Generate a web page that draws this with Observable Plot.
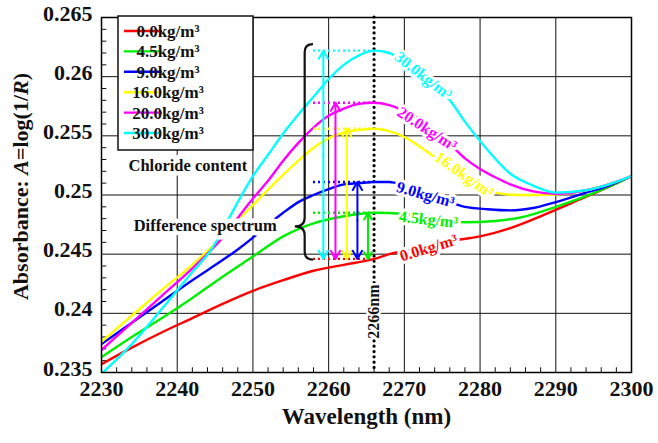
<!DOCTYPE html>
<html><head><meta charset="utf-8">
<script src="https://cdn.jsdelivr.net/npm/d3@7"></script>
<script src="https://cdn.jsdelivr.net/npm/@observablehq/plot@0.6"></script>
<style>
html,body{margin:0;padding:0;background:#fff;}
#chart{position:relative;width:658px;height:443px;}
#chart text{font-family:"Liberation Serif","Tinos","DejaVu Serif",serif !important;}
</style></head><body><div id="chart"></div>
<script>
// ---------- data ----------
const seriesNames = ["0.0kg/m³","4.5kg/m³","9.0kg/m³","16.0kg/m³","20.0kg/m³","30.0kg/m³"];
const seriesColors = ["#ff0000","#00ee00","#0000ff","#ffff00","#ff00ff","#00ffff"];

const red0 = [[2230,.2357],[2234,.2371],[2238,.2384],[2242,.2396],[2246,.2408],[2250,.2419],[2254,.2428],[2258,.2436],[2262,.2441],[2266,.2446],[2268,.2450],[2272,.2455],[2276,.2461],[2280,.2465],[2284,.2472],[2288,.2482],[2292,.2493],[2296,.2504],[2300,.2516]];
const green45 = [[2230,.2363],[2234,.2380],[2238,.2396],[2242,.2413],[2246,.2431],[2250,.2448],[2254,.2465],[2258,.2476],[2262,.2482],[2266,.2485],[2270,.2484],[2274,.2480],[2278,.2477],[2282,.2478],[2286,.2482],[2290,.2490],[2294,.2499],[2297,.2507],[2300,.2516]];
const blue9 = [[2230,.2374],[2234,.2392],[2238,.2410],[2242,.2428],[2246,.2445],[2248,.2454],[2250,.2464],[2252,.2475],[2254,.2485],[2256,.2494],[2258,.2500],[2260,.2505],[2262,.2509],[2264,.2510],[2266,.2511],[2268,.2511],[2270,.2508],[2273,.2501],[2276,.2494],[2278,.2490],[2281,.2488],[2284,.2487],[2287,.2489],[2290,.2494],[2294,.2502],[2297,.2508],[2300,.2516]];
const yellow16 = [[2230,.2376],[2234,.2398],[2238,.2420],[2242,.2441],[2246,.2465],[2249,.2485],[2251,.2498],[2253.5,.2514],[2256,.2529],[2258,.2540],[2260,.2548],[2262,.2553],[2264,.2555],[2266,.2556],[2268,.2554],[2270,.2549],[2272,.2541],[2274,.2532],[2276,.2523],[2278,.2514],[2280,.2507],[2282,.2502],[2285,.2500],[2288,.2500],[2291,.2501],[2294,.2504],[2297,.2509],[2300,.2516]];
const magenta20 = [[2230,.2369],[2234,.2392],[2238,.2415],[2242,.2438],[2246,.2464],[2248.4,.2484],[2250,.2497],[2252,.2512],[2254,.2529],[2256,.2544],[2258,.2557],[2260,.2567],[2262,.2573],[2264,.2577],[2266,.2578],[2268,.2576],[2270,.2571],[2273,.2560],[2276,.2543],[2278,.2531],[2280,.2522],[2282,.2515],[2284,.2509],[2287,.2503],[2290,.2501],[2294,.2504],[2297,.2509],[2300,.2516]];
const cyan30 = [[2230,.2349],[2234,.2374],[2238,.2404],[2242,.2435],[2244.4,.2453],[2246,.2470],[2247.4,.2487],[2250,.2516],[2252,.2534],[2254,.2552],[2256,.2568],[2258,.2583],[2260,.2598],[2262,.2610],[2264,.2618],[2266,.2622],[2268,.2620],[2270,.2612],[2272,.2602],[2274,.2592],[2276,.2580],[2278,.2562],[2281,.2538],[2284,.2518],[2287,.2508],[2290,.2502],[2294,.2504],[2297,.2509],[2300,.2516]];
const seriesData = [red0, green45, blue9, yellow16, magenta20, cyan30];

const xTicks = [2230,2240,2250,2260,2270,2280,2290,2300];
const yTicks = [0.235,0.24,0.245,0.25,0.255,0.26,0.265];
const xMinor = d3.range(2232,2300,2).filter(v => v % 10 !== 0);
const yMinor = d3.range(236,265,1).filter(v => v % 5 !== 0).map(v => v/1000);

const peakWavelength = 2266;
// wavelengths of the difference arrows (cyan, magenta, yellow, blue, green)
const arrowWavelengths = [2259.3, 2260.9, 2262.4, 2263.8, 2265.2];
const arrowSeries = [5, 4, 3, 2, 1];
const dottedFrom = 2258;

// rotated curve labels: wavelength, absorbance, angle
const labelW = [2273.2, 2273.2, 2272.8, 2277.9, 2273.0, 2272.5];
const labelA = [0.24552, 0.24792, 0.25003, 0.25172, 0.25558, 0.26008];
const labelAngle = [-17, 6, 16, 35, 33, 38];

const noteTexts = ["Chloride content", "Difference spectrum"];
const noteW = [2241.4, 2243.7];
const noteA = [0.25248, 0.24741];
const wlLabel = "2266nm";
const wlLabelA = 0.24015;
// brace: vertical wavelength, tip wavelength, end wavelength, cusp absorbance
const braceW = [2256.9, 2255.6, 2258.0];
const braceCusp = 0.2473;

// ---------- derived tables ----------
const rows = seriesData.flatMap((arr, i) => arr.map(([w, a]) => ({w, a, name: seriesNames[i]})));
const levelAt = arr => arr.find(d => d[0] === peakWavelength)[1];
const levels = seriesData.map(levelAt);
const peakRows = levels.map((a, i) => ({a, name: seriesNames[i]}));
const baseLevel = levels[0];
const arrowRows = arrowWavelengths.map((w, k) => {
  const i = arrowSeries[k];
  return {w, top: levels[i], bottom: baseLevel, mid: (levels[i] + baseLevel) / 2, name: seriesNames[i]};
});
const labelRows = seriesNames.map((n, i) => ({name: n, w: labelW[i], a: labelA[i], r: labelAngle[i]}));
const noteRows = noteTexts.map((t, i) => ({t, w: noteW[i], a: noteA[i]}));

const serif = "Liberation Serif, Tinos, DejaVu Serif, serif";

const chart = Plot.plot({
  width: 658, height: 443,
  marginLeft: 101, marginRight: 27, marginTop: 17, marginBottom: 71,
  x: {domain: [2230, 2300], axis: null},
  y: {domain: [0.235, 0.265], axis: null},
  color: {domain: seriesNames, range: seriesColors},
  style: {fontFamily: serif, fontWeight: "bold", background: "white", overflow: "visible"},
  marks: [
    Plot.ruleX(xTicks.slice(1, -1), {stroke: "#111", strokeWidth: 1}),
    Plot.ruleY(yTicks.slice(1, -1), {stroke: "#111", strokeWidth: 1}),
    Plot.ruleX(xMinor, {x: d => d, y1: 0.235, y2: 0.2354, stroke: "#111"}),
    Plot.ruleY(yMinor, {y: d => d, x1: 2230, x2: 2230.7, stroke: "#111"}),
    Plot.ruleX([peakWavelength], {stroke: "black", strokeWidth: 3.2, strokeDasharray: "0.01,5.3", strokeLinecap: "round"}),
    Plot.line(rows, {x: "w", y: "a", z: "name", stroke: "name", strokeWidth: 2.4, curve: "monotone-x", clip: true}),
    Plot.ruleY(peakRows, {y: "a", x1: dottedFrom, x2: peakWavelength, stroke: "name", strokeWidth: 2.4, strokeDasharray: "2,3"}),
    Plot.arrow(arrowRows, {x1: "w", x2: "w", y1: "mid", y2: "top", stroke: "name", strokeWidth: 2, headLength: 7}),
    Plot.arrow(arrowRows, {x1: "w", x2: "w", y1: "mid", y2: "bottom", stroke: "name", strokeWidth: 2, headLength: 7}),
    Plot.text(labelRows, {x: "w", y: "a", text: "name", rotate: "r", fill: "name", stroke: "white", strokeWidth: 6, fontSize: 16}),
    Plot.text(noteRows, {x: "w", y: "a", text: "t", fill: "#111", stroke: "white", strokeWidth: 9, fontSize: 16.5}),
    Plot.text([wlLabel], {x: peakWavelength, y: wlLabelA, text: d => d, rotate: -90, fill: "#111", stroke: "white", strokeWidth: 5, fontSize: 16}),
    Plot.text(xTicks, {x: d => d, text: d => String(d), frameAnchor: "bottom", dy: 23, fontSize: 22, fill: "#111"}),
    Plot.text(yTicks, {y: d => d, text: d => String(d), frameAnchor: "left", textAnchor: "end", dx: -9, dy: -4, fontSize: 22, fill: "#111"}),
    Plot.text(["Wavelength (nm)"], {text: d => d, frameAnchor: "bottom", dy: 51, fontSize: 23, fill: "#111"}),
    Plot.frame({stroke: "black", strokeWidth: 1.5})
  ]
});
document.getElementById("chart").appendChild(chart);

// ---------- annotations drawn with the plot's scales ----------
const svg = d3.select(chart);
const sx = chart.scale("x"), sy = chart.scale("y");
const X = sx.apply(braceW[0]), T = sx.apply(braceW[1]), E = sx.apply(braceW[2]);
const yt = sy.apply(d3.max(levels) + 0.0005), yb = sy.apply(baseLevel - 0.0001), yc = sy.apply(braceCusp);
const p = d3.path();
p.moveTo(E, yt);
p.quadraticCurveTo(X, yt, X, yt + 8);
p.lineTo(X, yc - 9);
p.quadraticCurveTo(X, yc, T, yc);
p.quadraticCurveTo(X, yc, X, yc + 9);
p.lineTo(X, yb - 8);
p.quadraticCurveTo(X, yb, E, yb);
svg.append("path").attr("d", p.toString()).attr("fill", "none").attr("stroke", "#111").attr("stroke-width", 2.2);

// y axis title with italic variables
const yl = svg.append("text")
  .attr("transform", `translate(23,${(17 + 372) / 2 - 8}) rotate(-90)`)
  .attr("text-anchor", "middle").attr("dominant-baseline", "middle")
  .attr("font-family", serif).attr("font-weight", "bold").attr("font-size", 22).attr("fill", "#111");
yl.append("tspan").text("Absorbance: ");
yl.append("tspan").attr("font-style", "italic").text("A");
yl.append("tspan").text("=log(1/");
yl.append("tspan").attr("font-style", "italic").text("R");
yl.append("tspan").text(")");

// legend box
const lg = svg.append("g");
lg.append("rect").attr("x", 118).attr("y", 16).attr("width", 135).attr("height", 134)
  .attr("fill", "white").attr("stroke", "#111").attr("stroke-width", 1.5);
seriesNames.forEach((n, i) => {
  const y = 31 + i * 20.4;
  lg.append("line").attr("x1", 124).attr("x2", 162).attr("y1", y).attr("y2", y)
    .attr("stroke", seriesColors[i]).attr("stroke-width", 2.4);
  lg.append("text").attr("x", 168).attr("y", y).attr("dy", "0.35em")
    .attr("font-family", serif).attr("font-weight", "bold").attr("font-size", 17).attr("fill", "#111").text(n);
});
</script></body></html>
